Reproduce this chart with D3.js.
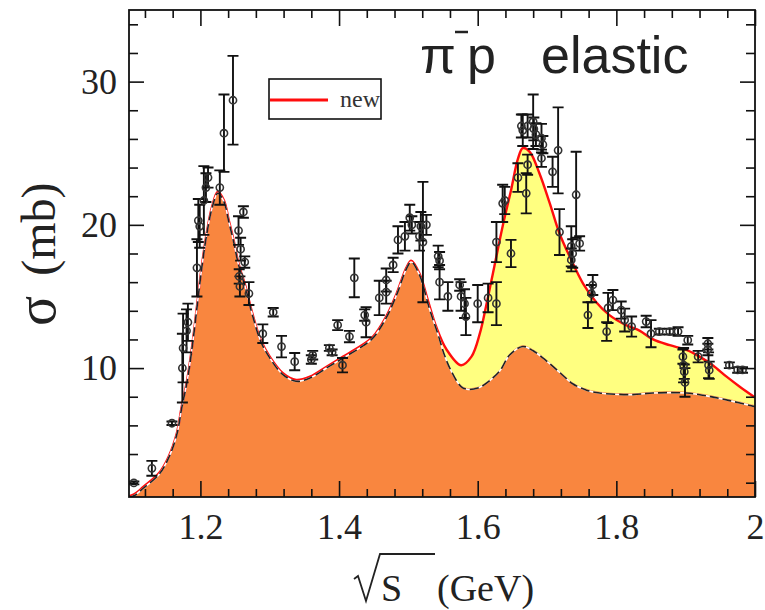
<!DOCTYPE html>
<html>
<head>
<meta charset="utf-8">
<script src="https://cdn.jsdelivr.net/npm/d3@7"></script>
<style>
  body { margin: 0; background: #fff; }
</style>
</head>
<body>
<div id="chart"></div>
<script>
// full model ("new"): [sqrt(s) GeV, sigma mb]
const fullCurve = [
  [1.097, 1.05], [1.105, 1.2], [1.118, 1.72], [1.140, 2.65], [1.154, 3.8], [1.166, 5.45],
  [1.173, 7.3], [1.181, 9.2], [1.188, 11.5], [1.195, 14.3], [1.202, 17.1], [1.209, 19.4],
  [1.217, 21.3], [1.225, 22.3], [1.234, 21.7], [1.241, 20.3], [1.248, 18.9], [1.255, 17.3],
  [1.265, 15.7], [1.275, 13.8], [1.287, 11.96], [1.300, 10.8], [1.319, 9.64], [1.338, 9.17],
  [1.358, 9.4], [1.382, 10.1], [1.406, 10.8], [1.430, 11.5], [1.449, 12.2], [1.468, 13.6],
  [1.483, 15.2], [1.497, 17.0], [1.504, 17.5], [1.516, 16.6], [1.528, 14.75], [1.540, 12.9],
  [1.555, 11.3], [1.576, 10.2], [1.591, 10.8], [1.603, 12.4], [1.612, 14.3], [1.624, 17.1],
  [1.636, 19.9], [1.648, 22.4], [1.658, 24.6], [1.665, 25.35], [1.675, 25.1], [1.689, 23.6],
  [1.704, 21.5], [1.718, 19.4], [1.735, 17.55], [1.752, 15.9], [1.771, 14.6], [1.790, 13.7],
  [1.814, 13.0], [1.834, 12.6], [1.853, 12.0], [1.877, 11.6], [1.901, 11.27], [1.920, 10.8],
  [1.939, 10.2], [1.959, 9.4], [1.978, 8.7], [2.0, 7.95]
];

// background part (orange, dashed)
const bgCurve = [
  [1.097, 1.05], [1.105, 1.2], [1.118, 1.72], [1.140, 2.65], [1.154, 3.8], [1.166, 5.45],
  [1.173, 7.3], [1.181, 9.2], [1.188, 11.5], [1.195, 14.3], [1.202, 17.1], [1.209, 19.4],
  [1.217, 21.3], [1.225, 22.3], [1.234, 21.7], [1.241, 20.3], [1.248, 18.9], [1.255, 17.3],
  [1.265, 15.7], [1.275, 13.8], [1.287, 11.96], [1.300, 10.8], [1.319, 9.64], [1.338, 9.17],
  [1.358, 9.4], [1.382, 10.1], [1.406, 10.8], [1.430, 11.5], [1.449, 12.2], [1.468, 13.6],
  [1.483, 15.2], [1.497, 17.0], [1.504, 17.5], [1.516, 16.6], [1.530, 14.3], [1.543, 12.4],
  [1.552, 11.0], [1.562, 9.87], [1.576, 8.8], [1.586, 8.6], [1.603, 8.75], [1.617, 9.2],
  [1.632, 9.9], [1.646, 11.0], [1.665, 11.6], [1.680, 11.3], [1.699, 10.6], [1.718, 9.8],
  [1.737, 9.0], [1.757, 8.55], [1.776, 8.35], [1.824, 8.24], [1.853, 8.35], [1.901, 8.35],
  [1.936, 8.1], [1.965, 7.8], [2.0, 7.4]
];

// measurements: [sqrt(s), sigma, error]
const dataPoints = [
  [1.104, 1.98, 0.1], [1.130, 3.0, 0.52], [1.159, 6.15, 0.12], [1.174, 10.0, 2.4],
  [1.175, 11.4, 2.4], [1.180, 12.6, 1.5], [1.182, 13.2, 1.3], [1.195, 17.0, 2.0],
  [1.197, 20.3, 1.5], [1.199, 19.9, 1.5], [1.205, 21.7, 2.4], [1.208, 22.6, 1.0],
  [1.211, 23.3, 0.7], [1.228, 22.6, 1.2], [1.234, 26.4, 2.7], [1.247, 28.7, 3.1],
  [1.255, 19.6, 1.0], [1.258, 18.3, 0.8], [1.262, 20.9, 0.4], [1.264, 17.4, 0.4],
  [1.256, 16.4, 0.5], [1.257, 15.7, 0.7], [1.270, 15.2, 0.8], [1.290, 12.4, 0.65],
  [1.305, 13.9, 0.3], [1.317, 11.5, 0.75], [1.336, 10.45, 0.6], [1.360, 10.6, 0.3],
  [1.362, 10.9, 0.3], [1.386, 11.4, 0.2], [1.390, 11.1, 0.2], [1.398, 13.0, 0.35],
  [1.405, 10.2, 0.5], [1.415, 12.2, 0.4], [1.422, 16.3, 1.35], [1.437, 13.7, 0.4],
  [1.439, 13.2, 1.05], [1.458, 14.9, 1.2], [1.468, 16.15, 0.8], [1.468, 15.3, 0.8],
  [1.478, 17.2, 0.5], [1.485, 18.95, 0.95], [1.495, 19.2, 1.0], [1.502, 20.5, 0.9],
  [1.505, 20.0, 0.6], [1.516, 19.2, 1.0], [1.518, 19.9, 1.0], [1.521, 18.8, 4.2],
  [1.526, 20.0, 0.7], [1.543, 17.8, 0.75], [1.545, 17.5, 0.6], [1.545, 16.0, 1.2],
  [1.557, 15.0, 1.0], [1.574, 15.8, 0.4], [1.576, 15.0, 1.0], [1.581, 14.5, 1.0],
  [1.583, 13.6, 1.3], [1.600, 14.5, 1.3], [1.615, 14.9, 1.0], [1.627, 14.5, 1.5],
  [1.627, 18.8, 1.4], [1.636, 21.5, 1.3], [1.639, 21.7, 0.95], [1.648, 18.0, 0.95],
  [1.658, 23.3, 1.0], [1.665, 26.6, 1.1], [1.663, 26.9, 0.8], [1.670, 22.2, 1.4],
  [1.672, 24.2, 0.7], [1.672, 26.9, 0.8], [1.680, 27.2, 1.9], [1.681, 26.7, 0.8],
  [1.684, 26.3, 0.8], [1.692, 26.05, 1.0], [1.692, 24.65, 0.6], [1.694, 25.6, 0.6],
  [1.708, 23.7, 1.05], [1.716, 25.2, 3.0], [1.718, 19.5, 1.6], [1.735, 18.5, 1.4],
  [1.737, 18.0, 1.0], [1.735, 17.55, 0.8], [1.742, 22.1, 3.0], [1.747, 18.7, 0.5],
  [1.759, 13.7, 0.9], [1.766, 15.8, 0.7], [1.764, 15.2, 0.6], [1.786, 12.55, 0.65],
  [1.788, 14.2, 1.05], [1.795, 14.75, 0.7], [1.807, 14.05, 0.6], [1.812, 13.35, 0.8],
  [1.822, 12.9, 0.7], [1.843, 13.25, 0.4], [1.850, 12.4, 0.95], [1.862, 12.55, 0.2],
  [1.877, 12.55, 0.2], [1.889, 12.55, 0.3], [1.903, 11.95, 0.3], [1.896, 10.8, 0.5],
  [1.897, 10.2, 1.2], [1.898, 9.75, 0.5], [1.899, 9.0, 1.0], [1.918, 10.8, 0.4],
  [1.932, 11.7, 0.4], [1.932, 11.3, 0.4], [1.933, 10.2, 0.9], [1.934, 9.85, 0.6],
  [1.963, 10.2, 0.2], [1.975, 9.87, 0.2], [1.982, 9.87, 0.2]
];

const xMajor = [1.2, 1.4, 1.6, 1.8, 2];
const xMinor = [1.12, 1.16, 1.24, 1.28, 1.32, 1.36, 1.44, 1.48, 1.52, 1.56, 1.64, 1.68, 1.72, 1.76, 1.84, 1.88, 1.92, 1.96];
const yMajor = [10, 20, 30];
const yMinor = [2, 4, 6, 8, 12, 14, 16, 18, 22, 24, 26, 28, 32, 34];

const W = 765, H = 610;
const box = {left: 129, right: 755, top: 10, bottom: 497};

const svg = d3.select('#chart')
  .append('svg')
  .attr('width', W)
  .attr('height', H);

const x = d3.scaleLinear().domain([1.097, 2.0]).range([box.left, box.right]);
const y = d3.scaleLinear().domain([1, 35]).range([box.bottom, box.top]);

svg.append('clipPath').attr('id', 'clip')
  .append('rect')
  .attr('x', box.left).attr('y', box.top)
  .attr('width', box.right - box.left).attr('height', box.bottom - box.top);

const plot = svg.append('g').attr('clip-path', 'url(#clip)');

const curve = d3.curveCatmullRom.alpha(0.5);

const area = d3.area()
  .x(d => x(d[0]))
  .y0(y(1))
  .y1(d => y(d[1]))
  .curve(curve);

const line = d3.line()
  .x(d => x(d[0]))
  .y(d => y(d[1]))
  .curve(curve);

// yellow under the full curve, orange under the background
plot.append('path').datum(fullCurve).attr('d', area).attr('fill', '#ffff80');
plot.append('path').datum(bgCurve).attr('d', area).attr('fill', '#f9863f');

plot.append('path').datum(fullCurve)
  .attr('d', line)
  .attr('fill', 'none')
  .attr('stroke', '#ff0d0d')
  .attr('stroke-width', 2.4);

const bg = plot.append('g').attr('transform', 'translate(0,1.3)');
bg.append('path').datum(bgCurve)
  .attr('d', line)
  .attr('fill', 'none')
  .attr('stroke', '#fff')
  .attr('stroke-width', 1.6);
bg.append('path').datum(bgCurve)
  .attr('d', line)
  .attr('fill', 'none')
  .attr('stroke', '#222')
  .attr('stroke-width', 1.6)
  .attr('stroke-dasharray', '9,4');

// data with error bars
const pts = plot.append('g').attr('stroke', '#111').attr('fill', 'none');
pts.selectAll('path.err')
  .data(dataPoints)
  .enter().append('path')
  .attr('class', 'err')
  .attr('stroke-width', 1.9)
  .attr('d', d => {
    const px = x(d[0]), lo = y(d[1] - d[2]), hi = y(d[1] + d[2]);
    return `M${px},${lo}V${hi}M${px - 5.5},${hi}H${px + 5.5}M${px - 5.5},${lo}H${px + 5.5}`;
  });
pts.selectAll('circle')
  .data(dataPoints)
  .enter().append('circle')
  .attr('cx', d => x(d[0]))
  .attr('cy', d => y(d[1]))
  .attr('r', 3.6)
  .attr('stroke', '#333')
  .attr('stroke-width', 1.6);

// axes (ticks inward on all four sides)
const serif = '"Liberation Serif", "Times New Roman", serif';

function styleAxis(g) {
  g.select('.domain').remove();
  g.selectAll('line').attr('stroke', '#111').attr('stroke-width', 1.6);
  g.selectAll('text').attr('font-family', serif).attr('font-size', 36).attr('fill', '#222');
}

svg.append('g')
  .attr('transform', `translate(0,${box.bottom})`)
  .call(d3.axisBottom(x).tickValues(xMajor).tickSize(-16).tickPadding(16).tickFormat(d3.format('')))
  .call(styleAxis);
svg.append('g')
  .attr('transform', `translate(0,${box.bottom})`)
  .call(d3.axisBottom(x).tickValues(xMinor).tickSize(-8).tickFormat(''))
  .call(styleAxis);
svg.append('g')
  .attr('transform', `translate(0,${box.top})`)
  .call(d3.axisTop(x).tickValues(xMajor).tickSize(-16).tickFormat(''))
  .call(styleAxis);
svg.append('g')
  .attr('transform', `translate(0,${box.top})`)
  .call(d3.axisTop(x).tickValues(xMinor).tickSize(-8).tickFormat(''))
  .call(styleAxis);

svg.append('g')
  .attr('transform', `translate(${box.left},0)`)
  .call(d3.axisLeft(y).tickValues(yMajor).tickSize(-15).tickPadding(12))
  .call(styleAxis);
svg.append('g')
  .attr('transform', `translate(${box.left},0)`)
  .call(d3.axisLeft(y).tickValues(yMinor).tickSize(-9).tickFormat(''))
  .call(styleAxis);
svg.append('g')
  .attr('transform', `translate(${box.right},0)`)
  .call(d3.axisRight(y).tickValues(yMajor).tickSize(-15).tickFormat(''))
  .call(styleAxis);
svg.append('g')
  .attr('transform', `translate(${box.right},0)`)
  .call(d3.axisRight(y).tickValues(yMinor).tickSize(-9).tickFormat(''))
  .call(styleAxis);

svg.append('rect')
  .attr('x', box.left).attr('y', box.top)
  .attr('width', box.right - box.left).attr('height', box.bottom - box.top)
  .attr('fill', 'none')
  .attr('stroke', '#111')
  .attr('stroke-width', 1.8);

// legend
const leg = svg.append('g');
leg.append('rect')
  .attr('x', 269).attr('y', 79).attr('width', 112).attr('height', 40)
  .attr('fill', '#fff').attr('stroke', '#111').attr('stroke-width', 1.6);
leg.append('line')
  .attr('x1', 270).attr('x2', 328).attr('y1', 100).attr('y2', 100)
  .attr('stroke', '#ff0d0d').attr('stroke-width', 3);
leg.append('text')
  .attr('x', 340).attr('y', 107)
  .attr('font-family', serif).attr('font-size', 24).attr('fill', '#333')
  .text('new');

// title
const sans = '"Liberation Sans", Arial, sans-serif';
const title = svg.append('g').attr('font-family', sans).attr('font-size', 52).attr('fill', '#222');
title.append('text').attr('x', 420).attr('y', 73).text('π');
title.append('line')
  .attr('x1', 455).attr('x2', 468).attr('y1', 32).attr('y2', 32)
  .attr('stroke', '#222').attr('stroke-width', 2.5);
title.append('text').attr('x', 467).attr('y', 73).text('p');
title.append('text').attr('x', 541).attr('y', 73).text('elastic');

// y label
const ylab = svg.append('text')
  .attr('transform', 'translate(55,326) rotate(-90)')
  .attr('font-family', serif)
  .attr('fill', '#222');
ylab.append('tspan').attr('font-size', 56).text('σ');
ylab.append('tspan').attr('font-size', 48).attr('dx', 8).text(' (mb)');

// x label: radical sign drawn as a path
svg.append('path')
  .attr('d', 'M354,579 L358,576 L366,601 L380,554 L435,554')
  .attr('fill', 'none')
  .attr('stroke', '#222')
  .attr('stroke-width', 1.8);
svg.append('text')
  .attr('x', 381).attr('y', 601)
  .attr('font-family', serif).attr('font-size', 38).attr('fill', '#222')
  .text('S');
svg.append('text')
  .attr('x', 437).attr('y', 601)
  .attr('font-family', serif).attr('font-size', 38).attr('fill', '#222')
  .text('(GeV)');
</script>
</body>
</html>
